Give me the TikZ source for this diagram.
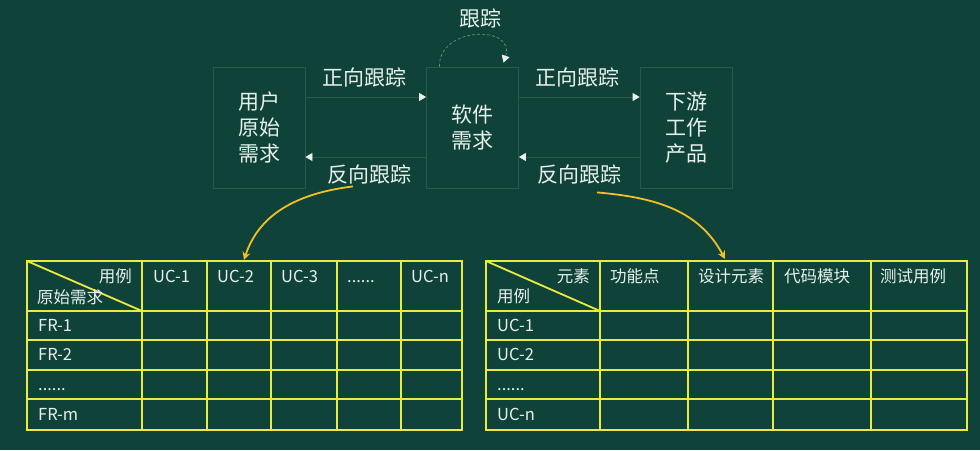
\documentclass[tikz,border=0pt]{standalone}
\usepackage{fontspec}
\setmainfont{Noto Sans CJK SC}
\usetikzlibrary{arrows.meta}
\definecolor{board}{HTML}{0F4339}
\definecolor{chalk}{HTML}{E8F0EC}
\definecolor{faint}{HTML}{27594F}
\definecolor{gridyellow}{HTML}{EAEA40}
\definecolor{gold}{HTML}{F0C024}
\tikzset{
  stage/.style={draw=faint, line width=0.8pt, minimum width=92pt, minimum height=121pt,
    inner sep=0pt, align=center, text=chalk, font=\fontsize{21}{26}\selectfont},
  tracetext/.style={text=chalk, inner sep=0pt, font=\fontsize{21}{24}\selectfont},
  trace/.style={draw=faint, line width=0.8pt, -{Triangle[length=7pt,width=8pt,color=chalk,fill=chalk]}},
  loopline/.style={draw=faint!60!chalk, line width=0.6pt, dash pattern=on 3pt off 2pt,
    -{Triangle[length=7pt,width=8pt,color=chalk,fill=chalk]}},
  celltext/.style={text=chalk, inner sep=0pt, font=\fontsize{16.5}{19}\selectfont},
  gridline/.style={draw=gridyellow, line width=1.8pt},
  pointer/.style={draw=gold, line width=1.8pt, -{Stealth[length=8pt,width=8pt]}}
}
\begin{document}
\begin{tikzpicture}[x=1pt,y=1pt]
    \def\moredots{......}
    \fill[board] (0,0) rectangle (980,450);
    % stages
    \node[stage] (user) at (259,322.5) {用户\\原始\\需求};
    \node[stage] (soft) at (472.5,322.5) {软件\\需求};
    \node[stage] (down) at (686,322.5) {下游\\工作\\产品};
    % forward and backward tracing
    \draw[trace] ([yshift=30.5pt]user.east) -- ([yshift=30.5pt]soft.west);
    \draw[trace] ([yshift=-29.5pt]soft.west) -- ([yshift=-29.5pt]user.east);
    \draw[trace] ([yshift=30.5pt]soft.east) -- ([yshift=30.5pt]down.west);
    \draw[trace] ([yshift=-29.5pt]down.west) -- ([yshift=-29.5pt]soft.east);
    \node[tracetext] (fwdl) at (364,373) {正向跟踪};
    \node[tracetext] (backl) at (369,275) {反向跟踪};
    \node[tracetext] (fwdr) at (577,373) {正向跟踪};
    \node[tracetext] (backr) at (579,275) {反向跟踪};
    % self loop
    \draw[loopline] ([xshift=-33pt]soft.north) to[out=92,in=72,looseness=1.6] ([xshift=31pt,yshift=4pt]soft.north);
    \node[tracetext] (loopl) at (480,432) {跟踪};
    % left table
    \draw[gridline] (27,20) rectangle (462,189);
    \foreach \x in {142,207,271,337,401}
        \draw[gridline] (\x,20) -- (\x,189);
    \foreach \y in {51,80,110,139}
        \draw[gridline] (27,\y) -- (462,\y);
    \draw[gridline] (27,189) -- (142,139);
    \node[celltext, anchor=base east] (lcol) at (132,167) {用例};
    \node[celltext, anchor=base west] (lrow) at (37,146) {原始需求};
    \foreach \x/\t [count=\i] in {153/UC-1,217/UC-2,281/UC-3,347/\moredots,411/UC-n}
        \node[celltext, anchor=base west] (lh\i) at (\x,167) {\t};
    \foreach \y/\t [count=\i] in {118.5/FR-1,89/FR-2,59.5/\moredots,29.5/FR-m}
        \node[celltext, anchor=base west] (lr\i) at (38,\y) {\t};
    % right table
    \draw[gridline] (486,20) rectangle (967,189);
    \foreach \x in {600,688,773,871}
        \draw[gridline] (\x,20) -- (\x,189);
    \foreach \y in {51,80,110,139}
        \draw[gridline] (486,\y) -- (967,\y);
    \draw[gridline] (486,189) -- (600,139);
    \node[celltext, anchor=base east] (rcol) at (590,167) {元素};
    \node[celltext, anchor=base west] (rrow) at (497,147) {用例};
    \foreach \x/\t [count=\i] in {610/功能点,698/设计元素,784/代码模块,880/测试用例}
        \node[celltext, anchor=base west] (rh\i) at (\x,167) {\t};
    \foreach \y/\t [count=\i] in {118.5/UC-1,89/UC-2,59.5/\moredots,29.5/UC-n}
        \node[celltext, anchor=base west] (rr\i) at (497,\y) {\t};
    % pointers to the tables
    \coordinate (lhit) at (244,190);
    \coordinate (rhit) at (725,191);
    \draw[pointer] ([xshift=-16pt,yshift=-1.5pt]backl.south) to[out=187,in=72] (lhit);
    \draw[pointer] ([xshift=18pt,yshift=-7.5pt]backr.south) to[out=-5,in=118] (rhit);
\end{tikzpicture}
\end{document}
